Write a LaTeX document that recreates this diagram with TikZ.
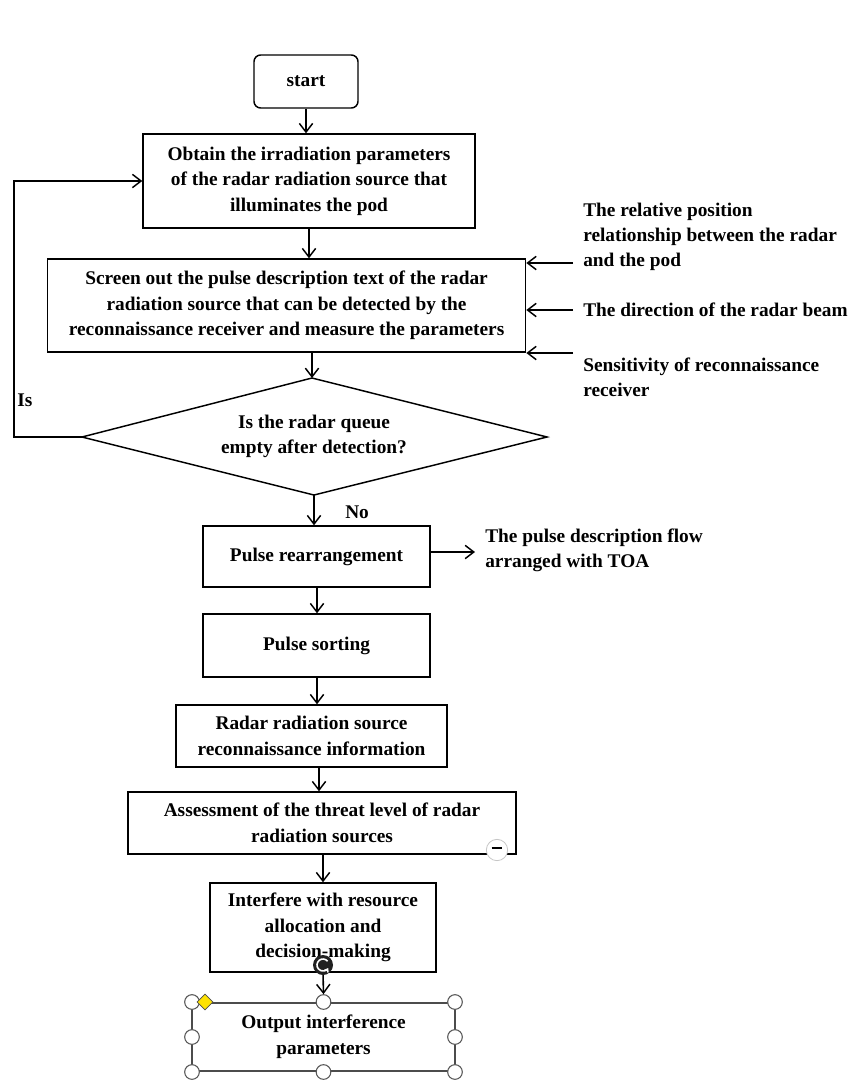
\documentclass[tikz,border=0pt]{standalone}
\usepackage{fontspec}
\setmainfont{Liberation Serif}
\usetikzlibrary{arrows.meta,shapes.geometric}
\begin{document}
\begin{tikzpicture}[x=0.75pt,y=-0.75pt,
  txt/.style={font=\fontsize{14.5}{19.2}\selectfont\bfseries, align=center, inner sep=0pt},
  sidetxt/.style={font=\fontsize{14.5}{18.8}\selectfont\bfseries, align=left, inner sep=0pt, anchor=west},
  procbox/.style={txt, draw=black, line width=1.1pt},
  arr/.style={line width=1.2pt, -{Straight Barb[length=6.5pt,width=10pt,line width=1.1pt]}},
  handle/.style={circle, draw=gray!70!black, fill=white, line width=0.8pt, minimum size=11pt, inner sep=0pt}
]
\useasboundingbox (0,0) rectangle (847,1082);

% main column
\node[procbox, rounded corners=5pt, minimum width=78pt, minimum height=39.75pt] (start) at (306,81.5) {start};
\node[procbox, minimum width=249pt, minimum height=70.5pt] (obtain) at (309,181)
  {Obtain the irradiation parameters\\of the radar radiation source that\\illuminates the pod};
\node[procbox, minimum width=358.5pt, minimum height=69.75pt] (screen) at (286.6,305.5)
  {Screen out the pulse description text of the radar\\radiation source that can be detected by the\\reconnaissance receiver and measure the parameters};

% decision
\coordinate (dT) at (312,378);
\coordinate (dR) at (547,437);
\coordinate (dB) at (314,495);
\coordinate (dL) at (82,437);
\draw[line width=1.1pt] (dT) -- (dR) -- (dB) -- (dL) -- cycle;
\node[txt] (question) at (314,436.5) {Is the radar queue\\empty after detection?};

\node[procbox, minimum width=170.25pt, minimum height=45.75pt] (rearr) at (316.5,556.5) {Pulse rearrangement};
\node[procbox, minimum width=170.25pt, minimum height=47.25pt] (sorting) at (316.5,645.5) {Pulse sorting};
\node[procbox, minimum width=203.25pt, minimum height=46.5pt] (recon) at (311.5,736) {Radar radiation source\\reconnaissance information};
\node[procbox, minimum width=291pt, minimum height=46.5pt] (threat) at (322,823) {Assessment of the threat level of radar\\radiation sources};
\node[procbox, minimum width=169.5pt, minimum height=66.75pt] (interfere) at (323,927.5) {Interfere with resource\\allocation and\\decision-making};
\node[txt, draw=gray!60!black, line width=0.8pt, minimum width=197.25pt, minimum height=51pt] (output) at (323.5,1037) {Output interference\\parameters};

% side inputs and outputs
\node[sidetxt] (relpos) at (583,237) {The relative position\\relationship between the radar\\and the pod};
\node[sidetxt] (beam) at (583,310) {The direction of the radar beam};
\node[sidetxt] (sens) at (583,377) {Sensitivity of reconnaissance\\receiver};
\node[sidetxt] (toa) at (485,550.5) {The pulse description flow\\arranged with TOA};
\coordinate (in1) at (573,263);
\coordinate (in2) at (573,310);
\coordinate (in3) at (573,353);
\coordinate (out1) at (475,552);
\coordinate (fb) at (14,437);
\coordinate (colA) at (317,0);
\coordinate (colB) at (319,0);

% branch labels
\node[sidetxt] (islbl) at (17,400) {Is};
\node[sidetxt] (nolbl) at (345,512) {No};

% selection handles around the output box
\foreach \hx/\hy [count=\i] in {192/1002, 323.5/1002, 455/1002, 192/1037, 455/1037, 192/1072, 323.5/1072, 455/1072}
  \node[handle] (h\i) at (\hx,\hy) {};
\node[diamond, draw=gray!60!black, fill=yellow!85!orange, line width=0.5pt, minimum size=12pt, inner sep=0pt] (adj) at (205,1002) {};

% connectors
\draw[arr] (start.south) -- (start.south |- obtain.north);
\draw[arr] (obtain.south) -- (obtain.south |- screen.north);
\draw[arr] (screen.south -| dT) -- (dT);
\draw[arr] (dL) -- (fb) |- (obtain.west);
\draw[arr] (dB) -- (dB |- rearr.north);
\draw[arr] (rearr.south -| colA) -- (colA |- sorting.north);
\draw[arr] (sorting.south -| colA) -- (colA |- recon.north);
\draw[arr] (recon.south -| colB) -- (colB |- threat.north);
\draw[arr] (threat.south -| interfere.north) -- (interfere.north);
\draw[arr] (interfere.south) -- (h2.north);
\draw[arr] (in1) -- (in1 -| screen.east);
\draw[arr] (in2) -- (in2 -| screen.east);
\draw[arr] (in3) -- (in3 -| screen.east);
\draw[arr] (rearr.east |- out1) -- (out1);

% editor icons
\node[circle, fill=gray!25!black, minimum size=15pt, inner sep=0pt] (rot) at (323,965) {};
\draw[white, line width=1.2pt, -{Straight Barb[length=2pt,width=3pt]}] (rot.center) ++(40:4.5pt) arc[start angle=40, end angle=330, radius=4.5pt];
\node[circle, draw=gray!45, fill=white, line width=0.6pt, minimum size=16pt, inner sep=0pt] (minus) at (497,850) {};
\draw[line width=2pt] (minus.center) ++(-4pt,1.5pt) -- ++(8pt,0);
\end{tikzpicture}
\end{document}
